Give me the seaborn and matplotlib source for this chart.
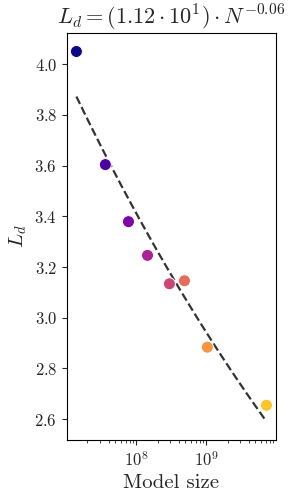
import numpy as np
import matplotlib
matplotlib.use("Agg")
import matplotlib.pyplot as plt
import seaborn as sns
from pandas import DataFrame

model_size = [1.39e7, 3.6e7, 7.7e7, 1.44e8, 2.96e8, 4.85e8, 1.03e9, 7.2e9]
loss = [4.05, 3.604, 3.379, 3.246, 3.134, 3.146, 2.884, 2.655]
fit_coef = 11.15
fit_exp = -0.0643
title = r"$L_d = (1.12 \cdot 10^{1}) \cdot N^{-0.06}$"

sns.set_style("ticks")
plt.rcParams["font.family"] = "serif"
plt.rcParams["font.serif"] = ["cmr10", "DejaVu Serif"]
plt.rcParams["mathtext.fontset"] = "cm"
plt.rcParams["axes.formatter.use_mathtext"] = True

data = DataFrame({"size": model_size, "loss": loss})
colors = [plt.cm.plasma(i / len(model_size)) for i in range(len(model_size))]

fig = plt.figure(figsize=(3, 5), dpi=100)
ax = fig.add_axes([0.223, 0.12, 0.697, 0.814])
sns.scatterplot(x="size", y="loss", data=data, hue=data.index, palette=colors,
                s=75, legend=False, ax=ax, zorder=3)
ax.set_xscale("log")

xs = np.geomspace(min(model_size), max(model_size), 100)
ax.plot(xs, fit_coef * xs ** fit_exp, "--", color="#333333", lw=1.6, zorder=2)

ax.set_title(title, fontsize=16)
ax.set_xlabel("Model size", fontsize=15)
ax.set_ylabel(r"$L_d$", fontsize=15)
ax.tick_params(labelsize=12)
for s in ax.spines.values():
    s.set_color("black")

plt.savefig("out.png", dpi=100)
